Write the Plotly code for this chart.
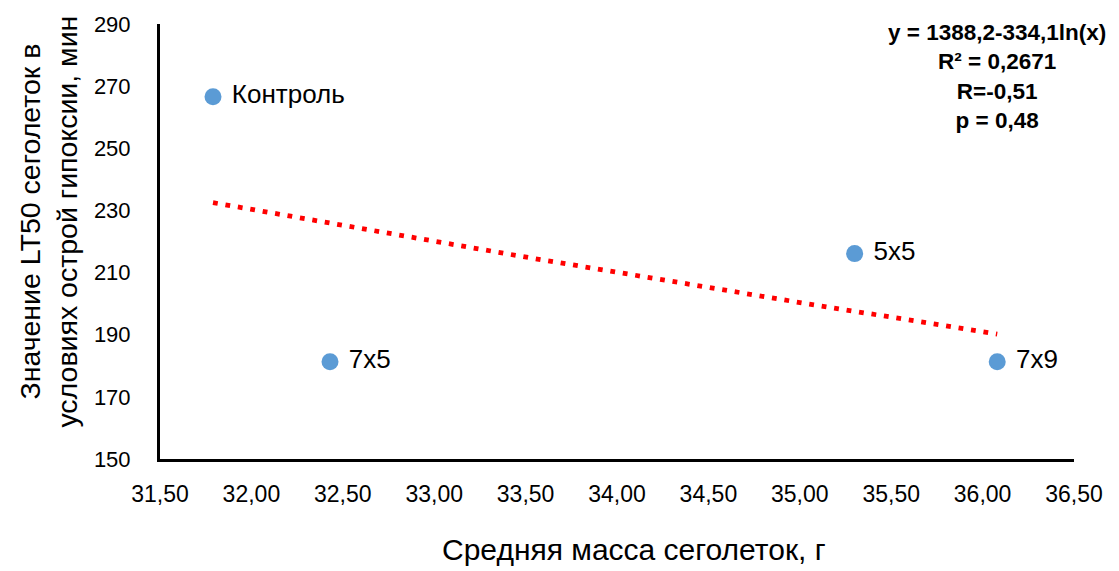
import numpy as np
import plotly.graph_objects as go

# Средняя масса сеголеток (г) и LT50 (мин) по вариантам
groups = ["Контроль", "7x5", "5x5", "7x9"]
mass_g = [31.79, 32.43, 35.30, 36.08]
lt50_min = [266.6, 181.3, 216.1, 181.3]

# Логарифмический тренд: y = a + b*ln(x)
trend_a = 1388.2
trend_b = -334.1

x_ticks = [31.5, 32.0, 32.5, 33.0, 33.5, 34.0, 34.5, 35.0, 35.5, 36.0, 36.5]
y_ticks = [150, 170, 190, 210, 230, 250, 270, 290]

FONT = "Liberation Sans, Arial, sans-serif"

tx = np.linspace(min(mass_g), max(mass_g), 200)
ty = trend_a + trend_b * np.log(tx)

fig = go.Figure()

fig.add_trace(go.Scatter(
    x=tx, y=ty, mode="lines",
    line=dict(color="#FF0000", width=4.8, dash="4.8px,7.8px"),
    hoverinfo="skip", showlegend=False,
))

fig.add_trace(go.Scatter(
    x=mass_g, y=lt50_min, mode="markers+text",
    text=[" " + g for g in groups],
    textposition="middle right",
    textfont=dict(family=FONT, size=26, color="#000000"),
    marker=dict(color="#5B9BD5", size=17),
    showlegend=False,
))

fig.update_layout(
    width=1119, height=571,
    margin=dict(l=160, r=45, t=21, b=112),
    paper_bgcolor="white", plot_bgcolor="white",
    separators=", ",
    font=dict(family=FONT, color="#000000"),
    xaxis=dict(
        range=[31.5, 36.5], tickvals=x_ticks, tickformat=".2f",
        showgrid=False, zeroline=False,
        showline=True, linecolor="#000000", linewidth=3,
        ticks="outside", ticklen=12, tickcolor="rgba(0,0,0,0)",
        tickfont=dict(family=FONT, size=23),
    ),
    yaxis=dict(
        range=[150, 290], tickvals=y_ticks,
        showgrid=False, zeroline=False,
        showline=True, linecolor="#000000", linewidth=3,
        ticks="outside", ticklen=22, tickcolor="rgba(0,0,0,0)",
        tickfont=dict(family=FONT, size=22),
    ),
    annotations=[
        dict(
            text="y = 1388,2-334,1ln(x)<br>R² = 0,2671<br>R=-0,51<br>p = 0,48",
            xref="paper", yref="paper", x=0.9158, y=1.013,
            xanchor="center", yanchor="top", align="center", showarrow=False,
            font=dict(family=FONT, size=22.5, color="#000000", weight="bold"),
        ),
        dict(
            text="Значение LT50 сеголеток в<br>условиях острой гипоксии, мин",
            xref="paper", yref="paper", x=-0.1215, y=0.5457,
            xanchor="center", yanchor="middle", textangle=-90, showarrow=False,
            font=dict(family=FONT, size=28.5, color="#000000"),
        ),
        dict(
            text="Средняя масса сеголеток, г",
            xref="paper", yref="paper", x=0.5186, y=-0.2078,
            xanchor="center", yanchor="middle", showarrow=False,
            font=dict(family=FONT, size=30, color="#000000"),
        ),
    ],
)

fig.write_html("out.html")
